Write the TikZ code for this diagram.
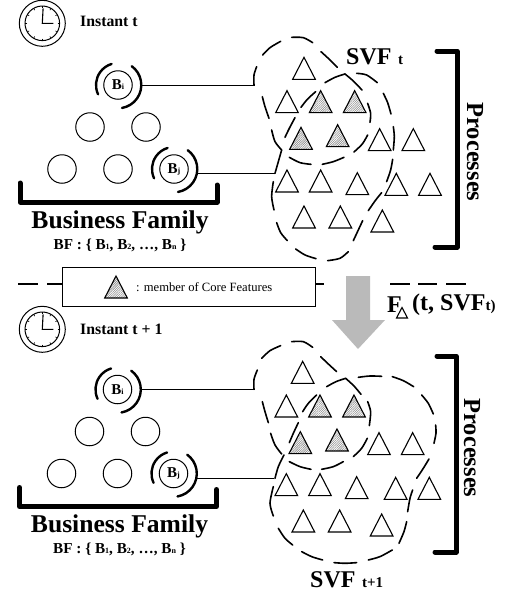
\documentclass[tikz,border=0pt]{standalone}
\usepackage{fontspec}
\setmainfont{Liberation Serif}
\usetikzlibrary{patterns.meta}
\newcommand{\fs}[1]{\fontsize{#1}{#1}\selectfont}
\newcommand{\sbf}[1]{{\fs{8}#1}}
\tikzset{
  thinline/.style={line width=1pt,black},
  thickbr/.style={line width=5pt,line cap=round,line join=round,black},
  ringarc/.style={line width=2.4pt,line cap=round,black},
  bcircle/.style={circle,draw=black,line width=1pt,minimum size=28.5pt,inner sep=0pt,font=\bfseries\fs{15}},
  lbl/.style={inner sep=0pt,font=\bfseries},
  hat/.style={pattern={Lines[angle=45,distance=1.6pt,line width=0.6pt]},pattern color=black!45},
  divider/.style={line width=2.6pt,black},
  dashseg/.style={line width=1.6pt,black,line cap=round},
  trishape/.style={line width=1.1pt,black,line join=miter},
}
% triangle by apex, in 3x zoom units
\newcommand{\tria}[3][]{\draw[trishape,#1] (#2,#3) -- ++(-34,66) -- ++(68,0) -- cycle;}
\newcommand{\dsh}[3]{\draw[dashseg] plot[smooth] coordinates {(#1) (#2) (#3)};}
\newcommand{\clockface}{%
  \draw[thinline] (0,0) circle (23);
  \draw[thinline] (0,0) circle (17.3);
  \foreach \a in {0,30,...,330}{\draw[line width=0.6pt] (\a:15.2) -- (\a:17.3);}
  \draw[line width=1.1pt,line join=miter] (0.8,-15) -- (0,0) -- (11,0);
}
\newcommand{\family}[1]{%
  \node[bcircle] (#1i) at (118,85) {B\sbf{i}};
  \node[bcircle] (#1a) at (90,127) {};
  \node[bcircle] (#1b) at (146,127) {};
  \node[bcircle] (#1c) at (62,169) {};
  \node[bcircle] (#1d) at (118,169) {};
  \node[bcircle] (#1j) at (174,169) {B\sbf{j}};
  \draw[ringarc] (#1i.center) ++(80:23.3) arc (80:-54:23.3);
  \draw[ringarc] (#1i.center) ++(155:22) arc (155:253:22);
  \draw[ringarc] (#1j.center) ++(80:23.3) arc (80:-54:23.3);
  \draw[ringarc] (#1j.center) ++(155:22) arc (155:253:22);
  \draw[thickbr] (20,183) -- (20,202) -- (217,202) -- (217,185);
  \node[lbl,font=\bfseries\fs{25.6}] (#1name) at (120,222) {Business Family};
  \node[lbl,font=\bfseries\fs{15.2}] (#1set) at (120,245) {BF : \{ B\sbf{1}, B\sbf{2}, \dots, B\sbf{n} \}};
}
\begin{document}
\begin{tikzpicture}[x=1pt,y=-1pt]
\useasboundingbox (0,0) rectangle (507,595);
% clocks
\begin{scope}[shift={(42.3,23.3)}] \clockface \end{scope}
\begin{scope}[shift={(42.3,329.3)}] \clockface \end{scope}
\node[lbl,anchor=west,font=\bfseries\fs{15.8}] (t0) at (80,21) {Instant t};
\node[lbl,anchor=west,font=\bfseries\fs{15.8}] (t1) at (80,329) {Instant t + 1};
% families
\begin{scope} \family{u} \end{scope}
\begin{scope}[shift={(-0.5,304.5)}] \family{l} \end{scope}
% connector ends
\coordinate (uia) at (142,85);   \coordinate (uib) at (255,85);
\coordinate (uja) at (198,173.5);\coordinate (ujb) at (275,173.5);
\coordinate (lia) at (141.7,389.3);\coordinate (lib) at (255,389.3);
\coordinate (lja) at (197,478);  \coordinate (ljb) at (274,478);
\draw[thinline] (uia) -- (uib);
\draw[thinline] (uja) -- (ujb);
\draw[thinline] (lia) -- (lib);
\draw[thinline] (lja) -- (ljb);
% upper triangles and blob
\begin{scope}[shift={(230,0)},x=0.3333pt,y=-0.3333pt]
  \tria{222}{172}
  \tria{171}{272} \tria[hat]{272}{272} \tria[hat]{374}{272}
  \tria[hat]{213}{382} \tria[hat]{323}{374} \tria{449}{386} \tria{550}{386}
  \tria{171}{510} \tria{272}{510} \tria{382}{518} \tria{499}{520} \tria{600}{520}
  \tria{222}{618} \tria{331}{618} \tria{457}{630}
  \dsh{72,255}{72,225}{80,200}
  \dsh{98,165}{120,143}{152,124}
  \dsh{185,112}{220,113}{248,128}
  \dsh{273,155}{298,178}{322,202}
  \dsh{285,248}{315,232}{345,222}
  \dsh{345,222}{370,243}{396,270}
  \dsh{380,220}{410,225}{442,248}
  \dsh{460,280}{473,308}{483,342}
  \dsh{490,380}{493,410}{490,450}
  \dsh{488,478}{482,510}{470,545}
  \dsh{455,578}{435,603}{415,632}
  \dsh{398,662}{385,690}{370,722}
  \dsh{355,755}{330,775}{293,782}
  \dsh{258,776}{225,765}{197,747}
  \dsh{172,722}{152,698}{140,668}
  \dsh{132,630}{125,590}{130,545}
  \dsh{135,520}{145,485}{155,450}
  \dsh{155,450}{135,425}{125,390}
  \dsh{117,355}{105,320}{97,290}
  \dsh{165,412}{178,385}{195,353}
  \dsh{213,322}{232,298}{257,275}
  \dsh{413,310}{422,340}{420,367}
  \dsh{413,405}{397,432}{372,456}
  \dsh{342,472}{310,485}{277,493}
  \dsh{243,493}{210,488}{178,472}
\end{scope}
% lower triangles and blob
\begin{scope}[shift={(230,260)},x=0.3333pt,y=-0.3333pt]
  \tria{218}{304}
  \tria{169}{405} \tria[hat]{270}{405} \tria[hat]{372}{405}
  \tria[hat]{211}{515} \tria[hat]{321}{507} \tria{447}{518} \tria{548}{518}
  \tria{169}{641} \tria{270}{641} \tria{380}{650} \tria{497}{652} \tria{598}{652}
  \tria{220}{750} \tria{329}{750} \tria{455}{762}
  \dsh{72,388}{72,358}{82,330}
  \dsh{95,295}{120,272}{152,257}
  \dsh{185,245}{220,245}{248,262}
  \dsh{272,290}{295,312}{320,335}
  \dsh{290,380}{318,365}{347,355}
  \dsh{347,355}{372,378}{393,403}
  \dsh{385,352}{420,348}{455,349}
  \dsh{487,350}{520,362}{551,380}
  \dsh{575,405}{595,430}{610,462}
  \dsh{617,495}{618,520}{612,550}
  \dsh{597,597}{580,625}{560,655}
  \dsh{548,690}{540,715}{533,755}
  \dsh{530,785}{522,815}{507,850}
  \dsh{487,870}{450,890}{415,900}
  \dsh{380,908}{345,910}{312,908}
  \dsh{278,900}{245,890}{215,875}
  \dsh{188,855}{165,835}{145,805}
  \dsh{130,768}{120,730}{130,680}
  \dsh{135,655}{145,620}{162,585}
  \dsh{155,582}{135,555}{122,520}
  \dsh{115,488}{105,455}{97,425}
  \dsh{178,548}{190,520}{205,488}
  \dsh{218,455}{235,430}{260,405}
  \dsh{413,425}{422,455}{418,497}
  \dsh{412,535}{395,565}{370,590}
  \dsh{340,605}{310,620}{275,628}
  \dsh{243,628}{210,620}{178,605}
\end{scope}
% SVF labels
\node[lbl,anchor=west,font=\bfseries\fs{24}] (svfu) at (346,57) {SVF\,\fs{15}\,t};
\node[lbl,anchor=west,font=\bfseries\fs{24}] (svfl) at (310,580) {SVF\,\fs{15}\,t+1};
% processes brackets
\draw[thickbr] (437,51) -- (457,51) -- (457,247) -- (435,247);
\draw[thickbr] (437,356) -- (456,356) -- (456,552) -- (435,552);
\node[lbl,rotate=-90,font=\bfseries\fs{24.5}] (pu) at (475,152) {Processes};
\node[lbl,rotate=-90,font=\bfseries\fs{24.5}] (pl) at (472,448) {Processes};
% divider
\draw[divider] (18,284) -- (38,284);
\draw[divider] (47,284) -- (62,284);
\draw[divider] (315,284) -- (324,284);
\draw[divider] (390,284) -- (410,284);
\draw[divider] (418,284) -- (437,284);
\draw[divider] (446,284) -- (466,284);
% legend
\node[draw=black,line width=1pt,fill=white,minimum width=253pt,minimum height=39pt,inner sep=0pt] (legend) at (188.5,286.5) {};
\draw[trishape,hat] (116,276) -- ++(-11.3,22) -- ++(22.6,0) -- cycle;
\node[inner sep=0pt,anchor=west,font=\fs{12.6}] (legtext) at (136,287) {: member of Core Features};
% big arrow
\fill[black!27] (346,276) -- (370,276) -- (370,320) -- (385,320) -- (358,349) -- (332,320) -- (346,320) -- cycle;
% F label
\node[lbl,anchor=west,font=\bfseries\fs{24}] (ff) at (387,305) {F};
\draw[line width=1.1pt] (402,307.5) -- (396.5,318) -- (407.5,318) -- cycle;
\node[lbl,anchor=west,font=\bfseries\fs{24}] (fa) at (412,305) {(t, SVF\fs{15}t)};
\end{tikzpicture}
\end{document}
